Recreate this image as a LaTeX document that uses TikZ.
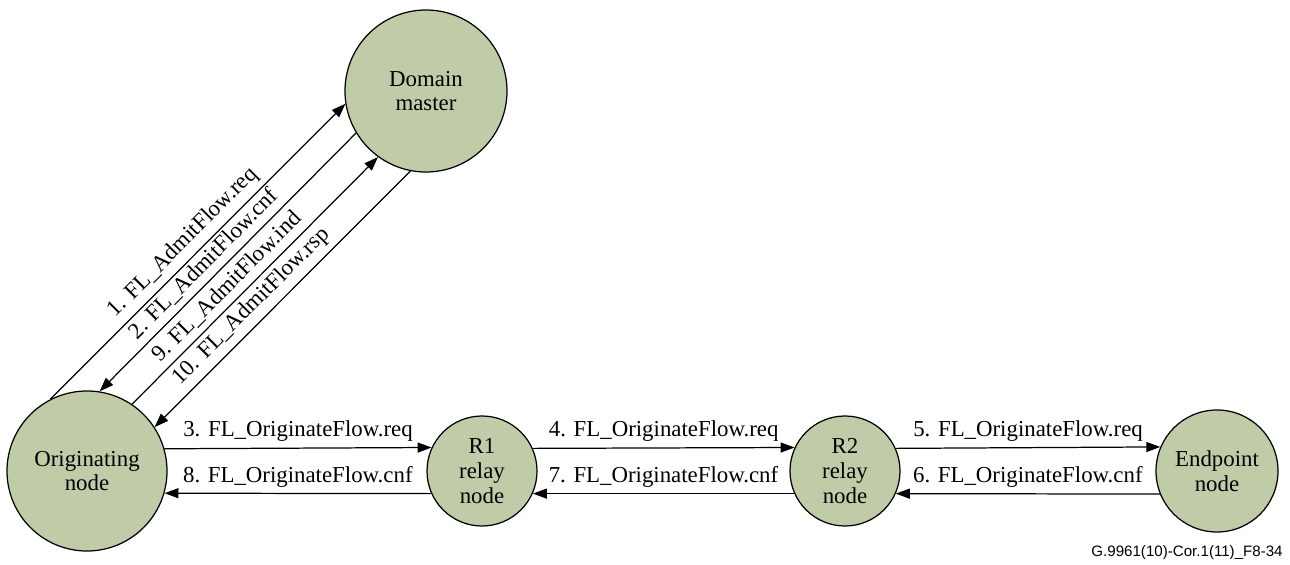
\documentclass[tikz,border=0pt]{standalone}
\usepackage{fontspec}
\setmainfont{Liberation Serif}
\newfontfamily\figfont{Liberation Sans}
\usetikzlibrary{arrows.meta}
\definecolor{nodegreen}{RGB}{192,204,168}
\tikzset{
  station/.style={circle,draw,fill=nodegreen,line width=0.7pt,align=center,
    inner sep=0pt,font=\fontsize{13}{14}\selectfont},
  msg/.style={line width=0.7pt,-{Triangle[length=2.8mm,width=2mm]}},
  msgback/.style={line width=0.7pt,{Triangle[length=2.8mm,width=2mm]}-},
  lbl/.style={font=\fontsize{13}{14}\selectfont}
}
\begin{document}
\begin{tikzpicture}
\useasboundingbox (0,0) rectangle (25.8,11.28);
% stations
\node[station,minimum size=3.24cm] (dm) at (8.52,9.46) {Domain\\master};
\node[station,minimum size=3.2cm] (orig) at (1.74,1.86) {Originating\\node};
\node[station,minimum size=2.2cm] (r1) at (9.64,1.86) {R1\\relay\\node};
\node[station,minimum size=2.2cm] (r2) at (16.9,1.86) {R2\\relay\\node};
\node[station,minimum size=2.44cm] (ep) at (24.34,1.86) {Endpoint\\node};
% admission with the domain master
\draw[msg] (orig.117.6) -- node[lbl,sloped,above,pos=0.49]{1. FL\_AdmitFlow.req} (dm.189.2);
\draw[msgback] (orig.81.4) -- node[lbl,sloped,above,pos=0.45]{2. FL\_AdmitFlow.cnf} (dm.211.9);
\draw[msg] (orig.56.7) -- node[lbl,sloped,above,pos=0.43]{9. FL\_AdmitFlow.ind} (dm.234);
\draw[msgback] (orig.33.3) -- node[lbl,sloped,above,pos=0.425]{10. FL\_AdmitFlow.rsp} (dm.259);
% requests along the relays
\draw[msg] (orig.16.7) -- node[lbl,above]{3. FL\_OriginateFlow.req} (r1.155.3);
\draw[msg] (r1.24.7) -- node[lbl,above]{4. FL\_OriginateFlow.req} (r2.155.3);
\draw[msg] (r2.24.7) -- node[lbl,above]{5. FL\_OriginateFlow.req} (ep.157.85);
% confirmations back
\draw[msg] (ep.202.15) -- node[lbl,above]{6. FL\_OriginateFlow.cnf} (r2.-24.7);
\draw[msg] (r2.204.7) -- node[lbl,above]{7. FL\_OriginateFlow.cnf} (r1.-24.7);
\draw[msg] (r1.204.7) -- node[lbl,above]{8. FL\_OriginateFlow.cnf} (orig.-16.7);
% figure number
\node[anchor=east,font=\figfont\fontsize{8.6}{10}\selectfont,inner sep=0pt] (fignum) at (25.66,0.22) {G.9961(10)-Cor.1(11)\_F8-34};
\end{tikzpicture}
\end{document}
